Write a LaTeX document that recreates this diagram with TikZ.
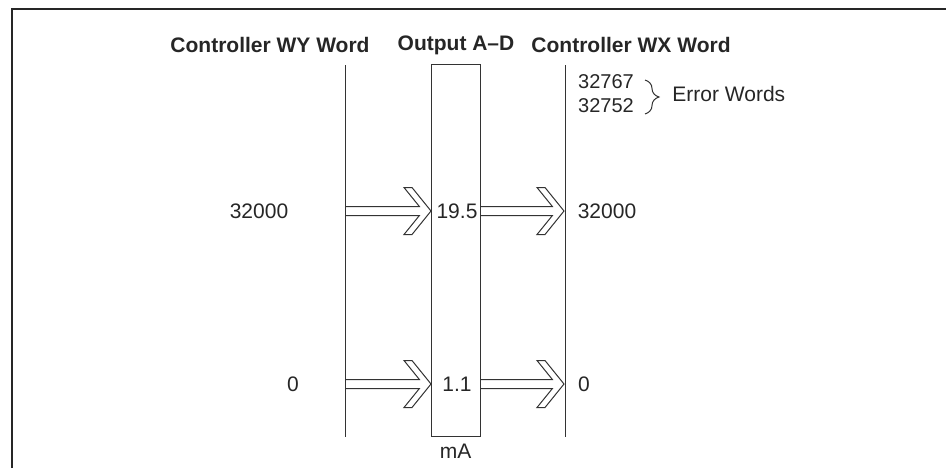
\documentclass[tikz,border=0pt]{standalone}
\usepackage{fontspec}
\setmainfont{Liberation Sans}
\usetikzlibrary{calc,positioning,decorations.pathreplacing}

\begin{document}
\begin{tikzpicture}[
    x=0.5pt, y=-0.5pt,
    every node/.style={font=\fontsize{10.5}{12}\selectfont, text=black!85, inner sep=0pt},
    header/.style={font=\fontsize{10.5}{12}\selectfont\bfseries},
    small/.style={font=\fontsize{10}{11}\selectfont},
    scaleline/.style={draw=black!80, line width=0.5pt},
    hollow/.style={draw=black!80, line width=0.5pt,
      to path={let \p1=(\tikztostart), \p2=(\tikztotarget) in
        (\x1,\y2+2.25pt) -- (\x2-5.8pt,\y2+2.25pt) -- (\x2-13.5pt,\y2+11.75pt)
        -- (\x2-9.5pt,\y2+11.75pt) -- (\x2,\y2) -- (\x2-9.5pt,\y2-11.75pt)
        -- (\x2-13.5pt,\y2-11.75pt) -- (\x2-5.8pt,\y2-2.25pt) -- (\x1,\y2-2.25pt)}}
  ]
    \useasboundingbox (0,0) rectangle (946,468);

    % frame
    \draw[black!85, line width=1pt] (12,468) -- (12,9) -- (946,9);

    % headers
    \node[header] (hwy) at (270,45) {Controller WY Word};
    \node[header] (hout) at (456,45) {Output A--D};
    \node[header] (hwx) at (631,45) {Controller WX Word};

    % scales
    \coordinate (wytop) at (345,65);
    \coordinate (wybot) at (345,437);
    \coordinate (wxtop) at (565,65);
    \coordinate (wxbot) at (565,437);
    \draw[scaleline] (wytop) -- (wybot);
    \draw[scaleline] (wxtop) -- (wxbot);
    \node[scaleline, minimum width=24.5pt, minimum height=186pt] (outbox) at (455.5,250) {};
    \node[below=3.5pt of outbox] (unit) {mA};

    % error words
    \node[small] (e1) at (606,82) {32767};
    \node[small] (e2) at (606,106) {32752};
    \coordinate (btop) at (645,80);
    \coordinate (bbot) at (645,114);
    \draw[black!80, line width=0.5pt, decorate, decoration={brace, amplitude=7pt}] (btop) -- (bbot);
    \node[anchor=west] (err) at (672,94) {Error Words};

    % values
    \foreach \i/\y/\wy/\ma/\wx/\xa/\xb in {1/211/32000/19.5/32000/259/607, 2/384/0/1.1/0/293/584}{
      \node (wy\i) at (\xa,\y) {\wy};
      \node (ma\i) at (457,\y) {\ma};
      \node (wx\i) at (\xb,\y) {\wx};
      \coordinate (lw\i) at (345,\y);
      \coordinate (lx\i) at (564,\y);
      \coordinate (bw\i) at (431,\y);
      \coordinate (be\i) at (480,\y);
      \draw[hollow] (lw\i) to (bw\i);
      \draw[hollow] (be\i) to (lx\i);
    }
  \end{tikzpicture}
\end{document}
